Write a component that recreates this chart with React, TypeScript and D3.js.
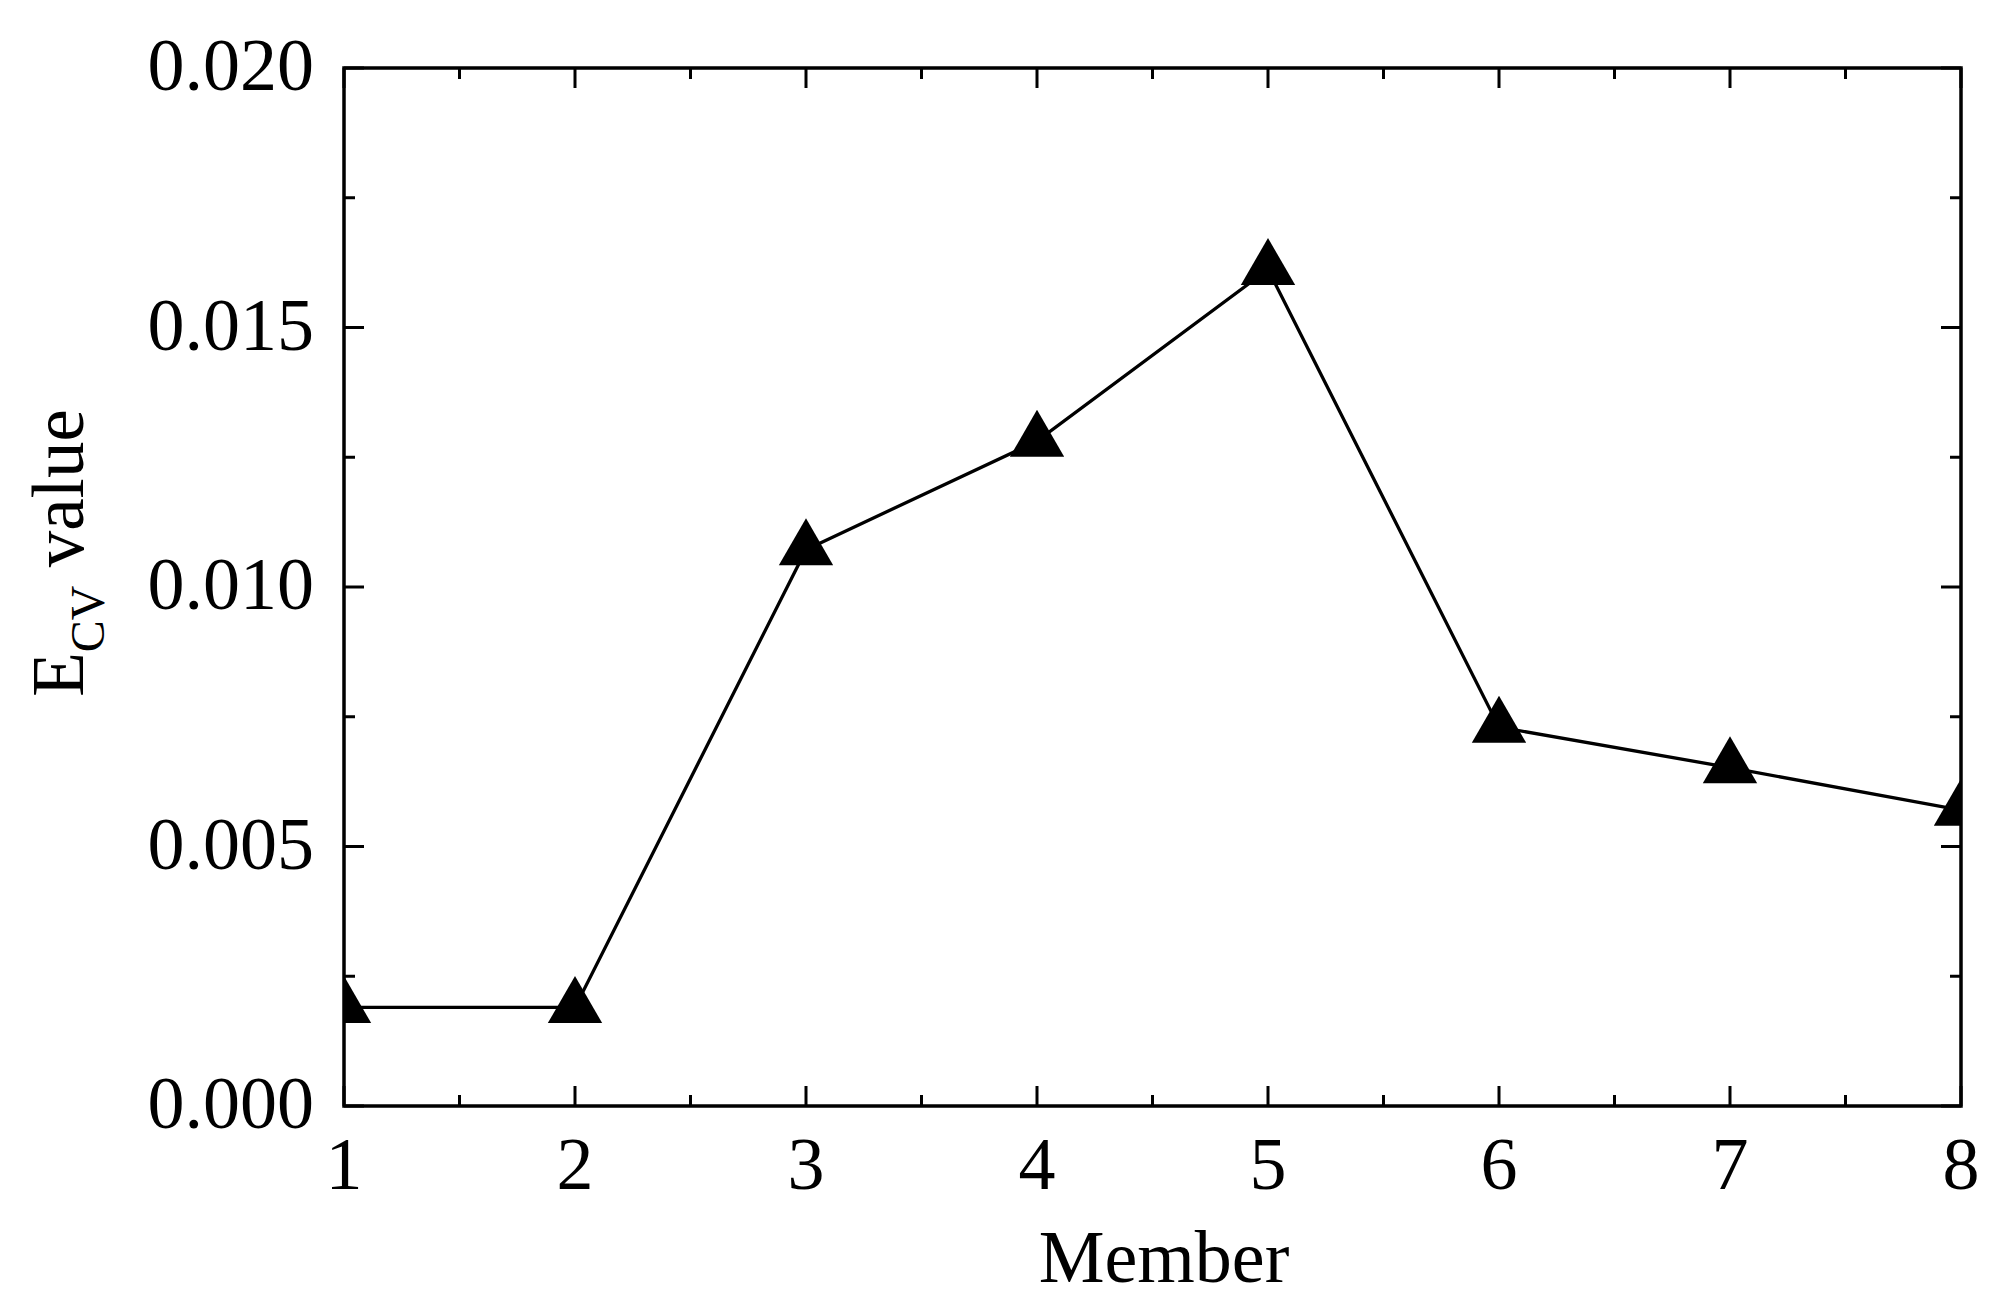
import React from "react";
import * as d3 from "d3";

const members = [1, 2, 3, 4, 5, 6, 7, 8];
const ecvValues = [0.0019, 0.0019, 0.01072, 0.01281, 0.01612, 0.0073, 0.00652, 0.0057];
const xTicks = [1, 2, 3, 4, 5, 6, 7, 8];
const xMinorTicks = [1.5, 2.5, 3.5, 4.5, 5.5, 6.5, 7.5];
const yTicks = [0, 0.005, 0.01, 0.015, 0.02];
const yMinorTicks = [0.0025, 0.0075, 0.0125, 0.0175];

const W = 2004;
const H = 1312;
const L = 344, R = 1961, T = 68, B = 1106;
const FONT = "'Liberation Serif', 'Times New Roman', serif";

export default function App() {
  const x = d3.scaleLinear().domain([1, 8]).range([L, R]);
  const y = d3.scaleLinear().domain([0, 0.02]).range([B, T]);
  const line = d3.line<number>().x((_, i) => x(members[i])).y((v) => y(v));
  const tri = d3.symbol().type(d3.symbolTriangle).size(1280)();
  const major = 20, minor = 11;

  return (
    <svg width={W} height={H} style={{ position: "absolute", left: 0, top: 0, background: "#fff" }}>
      <defs>
        <clipPath id="plotclip">
          <rect x={L} y={T} width={R - L} height={B - T} />
        </clipPath>
      </defs>
      <rect x={0} y={0} width={W} height={H} fill="#fff" />
      <g clipPath="url(#plotclip)">
        <path d={line(ecvValues) || ""} fill="none" stroke="#000" strokeWidth={3.3} />
        {ecvValues.map((v, i) => (
          <path key={i} d={tri || ""} transform={`translate(${x(members[i])},${y(v)})`} fill="#000" />
        ))}
      </g>
      <g stroke="#000" strokeWidth={3}>
        {xTicks.map((t) => (
          <g key={"xt" + t}>
            <line x1={x(t)} x2={x(t)} y1={B} y2={B - major} />
            <line x1={x(t)} x2={x(t)} y1={T} y2={T + major} />
          </g>
        ))}
        {xMinorTicks.map((t) => (
          <g key={"xm" + t}>
            <line x1={x(t)} x2={x(t)} y1={B} y2={B - minor} />
            <line x1={x(t)} x2={x(t)} y1={T} y2={T + minor} />
          </g>
        ))}
        {yTicks.map((t) => (
          <g key={"yt" + t}>
            <line x1={L} x2={L + major} y1={y(t)} y2={y(t)} />
            <line x1={R} x2={R - major} y1={y(t)} y2={y(t)} />
          </g>
        ))}
        {yMinorTicks.map((t) => (
          <g key={"ym" + t}>
            <line x1={L} x2={L + minor} y1={y(t)} y2={y(t)} />
            <line x1={R} x2={R - minor} y1={y(t)} y2={y(t)} />
          </g>
        ))}
      </g>
      <rect x={L} y={T} width={R - L} height={B - T} fill="none" stroke="#000" strokeWidth={3.5} />
      <g fontFamily={FONT} fontSize={74} fill="#000">
        {xTicks.map((t) => (
          <text key={"xl" + t} x={x(t)} y={1189} textAnchor="middle">{t}</text>
        ))}
        {yTicks.map((t) => (
          <text key={"yl" + t} x={314} y={y(t) + 22} textAnchor="end">{d3.format(".3f")(t)}</text>
        ))}
      </g>
      <text x={1164} y={1282} textAnchor="middle" fontFamily={FONT} fontSize={74} fill="#000">Member</text>
      <text transform={`translate(83,553) rotate(-90)`} textAnchor="middle" fontFamily={FONT} fontSize={73} fill="#000">
        E<tspan fontSize={48} dy={21}>CV</tspan><tspan dy={-21}> value</tspan>
      </text>
    </svg>
  );
}
